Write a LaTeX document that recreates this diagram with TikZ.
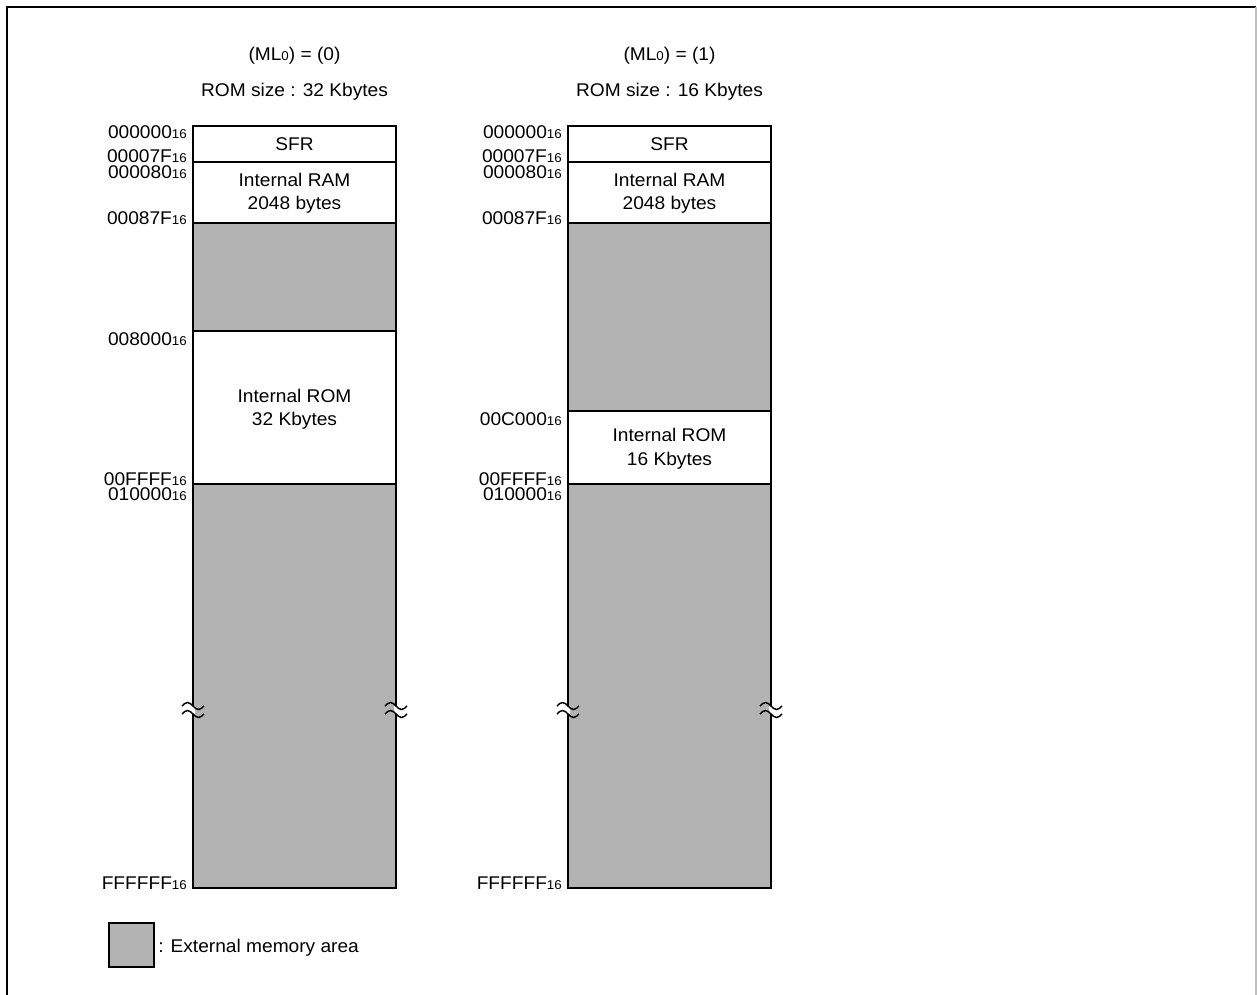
\documentclass[tikz,border=0pt]{standalone}
\usepackage{fontspec}
\setmainfont{Liberation Sans}[FakeStretch=1.04]
\newcommand{\hsub}[1]{{\fontsize{9.6pt}{9.6pt}\selectfont #1}}
\definecolor{extgray}{RGB}{179,179,179}
\begin{document}
\begin{tikzpicture}[x=0.75pt,y=-0.75pt,
  txt/.style={font=\fontsize{13.8pt}{16pt}\selectfont, inner sep=0pt, anchor=base},
  addr/.style={txt, anchor=base east},
  outline/.style={line width=1.6pt},
  divider/.style={line width=0.8pt},
  brk/.pic={
    \fill[white] (-1.8,-4) rectangle (1.8,4);
    \draw[line width=1.1pt] (-11,-4) sin (-5.5,-7.5) cos (0,-4) sin (5.5,-0.5) cos (11,-4);
    \draw[line width=1.1pt] (-11,4) sin (-5.5,0.5) cos (0,4) sin (5.5,7.5) cos (11,4);
  }]
\useasboundingbox (0,0) rectangle (1257,995);
% frame
\draw[line width=2pt] (7,995) -- (7,7) -- (1256,7);
\draw[black!25, line width=0.8pt] (1256,7) -- (1256,995);

% ---------- left map ----------
\fill[extgray] (193,223) rectangle (396,331);
\fill[extgray] (193,484) rectangle (396,888);
\draw[divider] (193,162) -- (396,162) (193,223) -- (396,223)
               (193,331) -- (396,331) (193,484) -- (396,484);
\draw[outline] (193,126) rectangle (396,888);
\pic at (193,710) {brk};
\pic at (396,710) {brk};

\node[txt] (t0a) at (294.5,61) {(ML\hsub{0}) = (0)};
\node[txt] (t0b) at (294.5,96.5) {ROM size : 32 Kbytes};
\node[txt] (sfr0) at (294.5,150.5) {SFR};
\node[txt] (ram0a) at (294.5,186.5) {Internal RAM};
\node[txt] (ram0b) at (294.5,209.5) {2048 bytes};
\node[txt] (rom0a) at (294.5,402.5) {Internal ROM};
\node[txt] (rom0b) at (294.5,425.5) {32 Kbytes};

\node[addr] (a00) at (187,138.5) {000000\hsub{16}};
\node[addr] (a01) at (187,162.5) {00007F\hsub{16}};
\node[addr] (a02) at (187,178.5) {000080\hsub{16}};
\node[addr] (a03) at (187,224.5) {00087F\hsub{16}};
\node[addr] (a04) at (187,345.5) {008000\hsub{16}};
\node[addr] (a05) at (187,485) {00FFFF\hsub{16}};
\node[addr] (a06) at (187,500.5) {010000\hsub{16}};
\node[addr] (a07) at (187,889) {FFFFFF\hsub{16}};

% ---------- right map ----------
\fill[extgray] (568,223) rectangle (771,411);
\fill[extgray] (568,484) rectangle (771,888);
\draw[divider] (568,162) -- (771,162) (568,223) -- (771,223)
               (568,411) -- (771,411) (568,484) -- (771,484);
\draw[outline] (568,126) rectangle (771,888);
\pic at (568,710) {brk};
\pic at (771,710) {brk};

\node[txt] (t1a) at (669.5,61) {(ML\hsub{0}) = (1)};
\node[txt] (t1b) at (669.5,96.5) {ROM size : 16 Kbytes};
\node[txt] (sfr1) at (669.5,150.5) {SFR};
\node[txt] (ram1a) at (669.5,186.5) {Internal RAM};
\node[txt] (ram1b) at (669.5,209.5) {2048 bytes};
\node[txt] (rom1a) at (669.5,441.5) {Internal ROM};
\node[txt] (rom1b) at (669.5,465.5) {16 Kbytes};

\node[addr] (b00) at (562,138.5) {000000\hsub{16}};
\node[addr] (b01) at (562,162.5) {00007F\hsub{16}};
\node[addr] (b02) at (562,178.5) {000080\hsub{16}};
\node[addr] (b03) at (562,224.5) {00087F\hsub{16}};
\node[addr] (b04) at (562,425) {00C000\hsub{16}};
\node[addr] (b05) at (562,485) {00FFFF\hsub{16}};
\node[addr] (b06) at (562,500.5) {010000\hsub{16}};
\node[addr] (b07) at (562,889) {FFFFFF\hsub{16}};

% ---------- legend ----------
\node[draw, line width=0.8pt, fill=extgray, minimum width=33.75pt, minimum height=33pt, inner sep=0pt] (leg) at (131.5,945) {};
\node[txt, anchor=base west] (legt) at (158,952) {: External memory area};
\end{tikzpicture}
\end{document}
